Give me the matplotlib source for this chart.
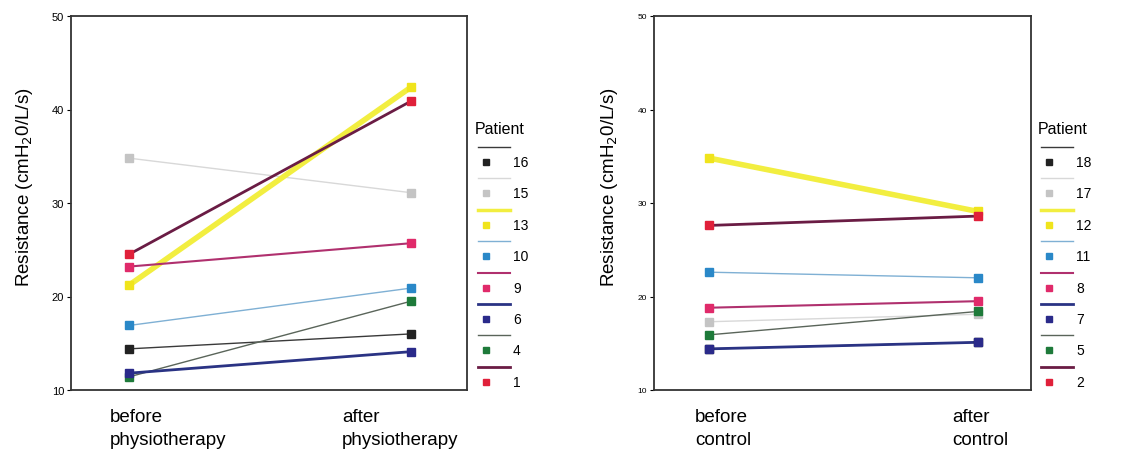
import matplotlib
matplotlib.use("Agg")
import matplotlib.pyplot as plt
from matplotlib.lines import Line2D

plt.rcParams['font.family'] = ['Liberation Sans', 'DejaVu Sans']

# data (legend order, top to bottom)
phys_patients = [16, 15, 13, 10, 9, 6, 4, 1]
phys_before = [14.4, 34.8, 21.2, 16.9, 23.2, 11.8, 11.4, 24.5]
phys_after = [16.0, 31.1, 42.4, 20.9, 25.7, 14.1, 19.5, 40.9]

ctrl_patients = [18, 17, 12, 11, 8, 7, 5, 2]
ctrl_before = [14.4, 17.3, 34.8, 22.6, 18.8, 14.4, 15.9, 27.6]
ctrl_after = [15.1, 18.1, 29.1, 22.0, 19.5, 15.1, 18.4, 28.6]

# styles by legend slot
line_cols = ['#3a3a3a', '#d8d8d8', '#f2ee40', '#7fb0d4', '#b0306e', '#2a3384', '#5a655a', '#6a1c44']
mark_cols = ['#222222', '#c4c4c4', '#f0e41c', '#2a88c8', '#e02a6a', '#2a2a8a', '#1e7a3a', '#e0203a']
widths = [1.0, 1.0, 4.0, 1.0, 1.5, 2.0, 1.0, 2.0]
draw_order = [1, 0, 6, 3, 2, 4, 7, 5]

W, H = 1132, 464
fig = plt.figure(figsize=(W / 100, H / 100), dpi=100)


def panel(rect, patients, before, after, cond, ticksize, leg_x, before_tx, after_tx):
    ax = fig.add_axes(rect)
    for i in draw_order:
        ax.plot([0, 1], [before[i], after[i]], color=line_cols[i], lw=widths[i], zorder=2)
        ax.plot([0, 1], [before[i], after[i]], ls='none', marker='s', ms=6,
                color=mark_cols[i], zorder=3)
    ax.set_xlim(-0.205, 1.198)
    ax.set_ylim(10, 50)
    ax.set_yticks([10, 20, 30, 40, 50])
    ax.tick_params(axis='y', labelsize=ticksize, length=3, pad=2)
    ax.set_xticks([])
    for s in ax.spines.values():
        s.set_linewidth(1.3)
        s.set_color('#333333')
    ax.set_ylabel('Resistance (cmH$_2$0/L/s)', fontsize=13.5)
    ax.yaxis.set_label_coords(-0.09, 0.545)
    ax.text(before_tx, -0.048, 'before\n' + cond, transform=ax.transAxes,
            ha='left', va='top', fontsize=13.5, linespacing=1.45)
    ax.text(after_tx, -0.048, 'after\n' + cond, transform=ax.transAxes,
            ha='left', va='top', fontsize=13.5, linespacing=1.45)

    # legend in SPSS style: line above, marker and label below
    fig.text(leg_x / W, 1 - 130 / H, 'Patient', fontsize=11.5, va='center', ha='left')
    for k, p in enumerate(patients):
        yc = 163 + 31.4 * k
        fig.add_artist(Line2D([(leg_x + 3) / W, (leg_x + 35) / W],
                              [1 - (yc - 15) / H] * 2, color=line_cols[k],
                              lw=min(widths[k], 2.5), transform=fig.transFigure))
        fig.add_artist(Line2D([(leg_x + 11) / W], [1 - yc / H], marker='s', ms=5,
                              color=mark_cols[k], transform=fig.transFigure))
        fig.text((leg_x + 38) / W, 1 - yc / H, str(p), fontsize=10, va='center', ha='left')
    return ax


panel([71 / W, 1 - 391 / H, 396 / W, 374 / H], phys_patients, phys_before, phys_after,
      'physiotherapy', 8, 475, 0.098, 0.684)
panel([654 / W, 1 - 391 / H, 377 / W, 374 / H], ctrl_patients, ctrl_before, ctrl_after,
      'control', 6, 1038, 0.109, 0.79)

fig.savefig('out.png', dpi=100)
